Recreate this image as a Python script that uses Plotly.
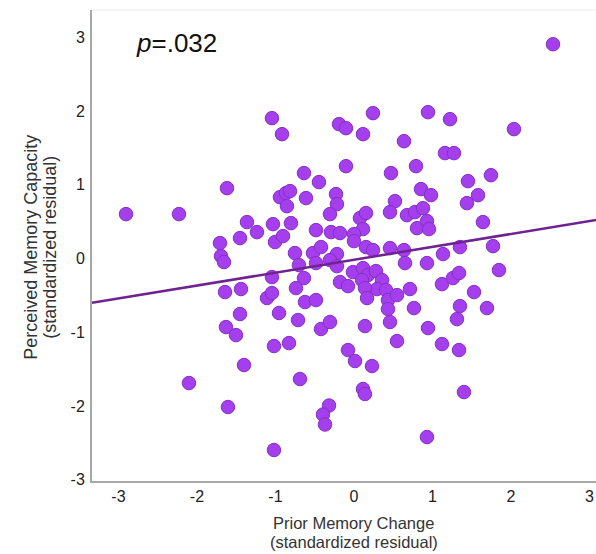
import plotly.graph_objects as go

# Prior Memory Change (standardized residual)
prior_change = [
    2.535, -1.045, -0.917, -0.191, -0.102, 0.242, 0.115, 0.637, 0.943, 1.223,
    2.038, 1.159, 1.274, -0.102, -0.637, -0.446, 0.471, 0.790, 1.452, 1.745,
    -1.618, -2.904, -2.229, -0.943, -0.866, -0.815, -0.854, -0.611, -0.229, -0.217,
    -0.306, 0.076, 0.153, 0.115, 0.522, 0.459, 0.675, 0.777, 0.879, 0.854,
    0.981, 1.580, 1.439, 0.803, 0.930, 0.955, 1.643, -1.363, -1.236, -1.452,
    -1.707, -1.694, -1.656, -1.032, -0.803, -1.006, -0.904, -0.484, -0.293, -0.178,
    0.000, 0.000, -0.752, -0.701, -0.522, -0.420, -0.484, -0.217, -0.306, -0.217,
    0.153, 0.242, 0.459, 0.637, 0.650, 0.930, 1.134, 1.350, 1.771, 1.847,
    -0.013, 0.115, 0.178, 0.280, -1.045, -0.637, -0.178, -0.076, 0.102, 0.357,
    0.293, 0.408, 0.140, 0.166, 0.433, 0.548, 0.713, 0.764, 0.433, 0.459,
    0.140, 0.548, 0.943, 1.121, 1.261, 1.338, 1.529, 1.350, 1.694, 1.312,
    1.121, 1.338, 1.401, 0.930, -1.643, -1.439, -1.108, -1.045, -1.452, -1.631,
    -1.503, -1.019, -1.401, -2.102, -1.605, -1.019, -0.739, -0.624, -0.484, -0.955,
    -0.713, -0.420, -0.306, -0.828, -0.076, 0.013, 0.229, -0.688, 0.115, 0.140,
    -0.318, -0.395, -0.369,
]

# Perceived Memory Capacity (standardized residual)
perceived_capacity = [
    2.906, 1.904, 1.687, 1.823, 1.768, 1.972, 1.687, 1.592, 1.985, 1.890,
    1.755, 1.430, 1.430, 1.253, 1.159, 1.037, 1.159, 1.253, 1.050, 1.131,
    0.955, 0.603, 0.603, 0.833, 0.888, 0.915, 0.711, 0.820, 0.874, 0.738,
    0.603, 0.549, 0.617, 0.400, 0.779, 0.630, 0.589, 0.630, 0.684, 0.942,
    0.860, 0.860, 0.752, 0.413, 0.508, 0.400, 0.495, 0.495, 0.359, 0.278,
    0.210, 0.034, -0.047, 0.467, 0.481, 0.224, 0.305, 0.386, 0.359, 0.346,
    0.332, 0.237, 0.075, -0.088, 0.075, 0.156, -0.061, 0.061, -0.020, -0.102,
    0.156, 0.115, 0.142, 0.115, -0.061, -0.061, 0.061, 0.156, 0.169, -0.156,
    -0.183, -0.129, -0.224, -0.169, -0.251, -0.264, -0.318, -0.373, -0.291, -0.291,
    -0.413, -0.427, -0.400, -0.535, -0.562, -0.495, -0.413, -0.671, -0.684, -0.860,
    -0.915, -1.118, -0.942, -0.346, -0.264, -0.196, -0.454, -0.644, -0.671, -0.820,
    -1.159, -1.240, -1.809, -2.419, -0.454, -0.413, -0.535, -0.467, -0.752, -0.928,
    -1.037, -1.186, -1.443, -1.687, -2.012, -2.595, -0.400, -0.589, -0.562, -0.738,
    -0.833, -0.955, -0.860, -1.145, -1.240, -1.389, -1.457, -1.633, -1.768, -1.836,
    -1.992, -2.114, -2.249,
]

# Fitted regression line
fit_slope = 0.175
fit_intercept = -0.016

x_ticks = [-3, -2, -1, 0, 1, 2, 3]
y_ticks = [-3, -2, -1, 0, 1, 2, 3]
tick_labels_x = ["-3", "-2", "-1", "0", "1", "2", "3"]
tick_labels_y = ["-3", "-2", "-1", "0", "1", "2", "3"]
x_range = [-3.337, 3.083]
y_range = [-3.015, 3.37]
p_label = "<i>p</i>=.032"
x_title_lines = ["Prior Memory Change", "(standardized residual)"]
y_title_lines = ["Perceived Memory Capacity", "(standardized residual)"]

fig = go.Figure()

fig.add_trace(go.Scatter(
    x=prior_change, y=perceived_capacity, mode="markers",
    marker=dict(size=13.5, color="#A53FEE", line=dict(color="#8330C4", width=1)),
    showlegend=False, hoverinfo="skip",
))

fig.add_trace(go.Scatter(
    x=x_range,
    y=[fit_intercept + fit_slope * v for v in x_range],
    mode="lines", line=dict(color="#6E2391", width=2.5),
    showlegend=False, hoverinfo="skip",
))

font_family = "Liberation Sans, Arial, Helvetica, sans-serif"

annotations = [
    dict(text=p_label, x=-2.80, y=2.92, xref="x", yref="y", xanchor="left",
         yanchor="middle", showarrow=False,
         font=dict(size=26, color="#111", family=font_family)),
]
# x-axis title, two lines
for line, shift in zip(x_title_lines, [-42, -61]):
    annotations.append(dict(
        text=line, x=0, xref="x", y=0, yref="paper", yanchor="middle",
        yshift=shift, showarrow=False,
        font=dict(size=16.5, color="#333", family=font_family)))
# y-axis title, two lines (rotated)
for line, xpos in zip(y_title_lines, [-61, -42]):
    annotations.append(dict(
        text=line, x=0, xref="paper", xanchor="center", xshift=xpos,
        y=0.495, yref="paper", yanchor="middle", textangle=-90, showarrow=False,
        font=dict(size=18, color="#333", family=font_family)))

fig.update_layout(
    width=596, height=554,
    margin=dict(l=92, r=0, t=10, b=73),
    paper_bgcolor="white", plot_bgcolor="white",
    font=dict(family=font_family, size=16, color="#222"),
    xaxis=dict(
        range=x_range, tickvals=x_ticks, ticktext=tick_labels_x,
        showgrid=False, zeroline=False, showline=True, linecolor="#a8a8a8",
        linewidth=2, ticks="", tickfont=dict(size=16, color="#222"),
        ticklabelstandoff=0,
    ),
    yaxis=dict(
        range=y_range, tickvals=y_ticks, ticktext=tick_labels_y,
        showgrid=False, zeroline=False, showline=True, linecolor="#a8a8a8",
        linewidth=2, ticks="", tickfont=dict(size=16, color="#222"),
        ticklabelstandoff=2,
    ),
    shapes=[dict(type="line", xref="paper", yref="paper", x0=0, x1=1, y0=1, y1=1,
                 line=dict(color="#ececec", width=1))],
    annotations=annotations,
)

fig.write_html("out.html")
